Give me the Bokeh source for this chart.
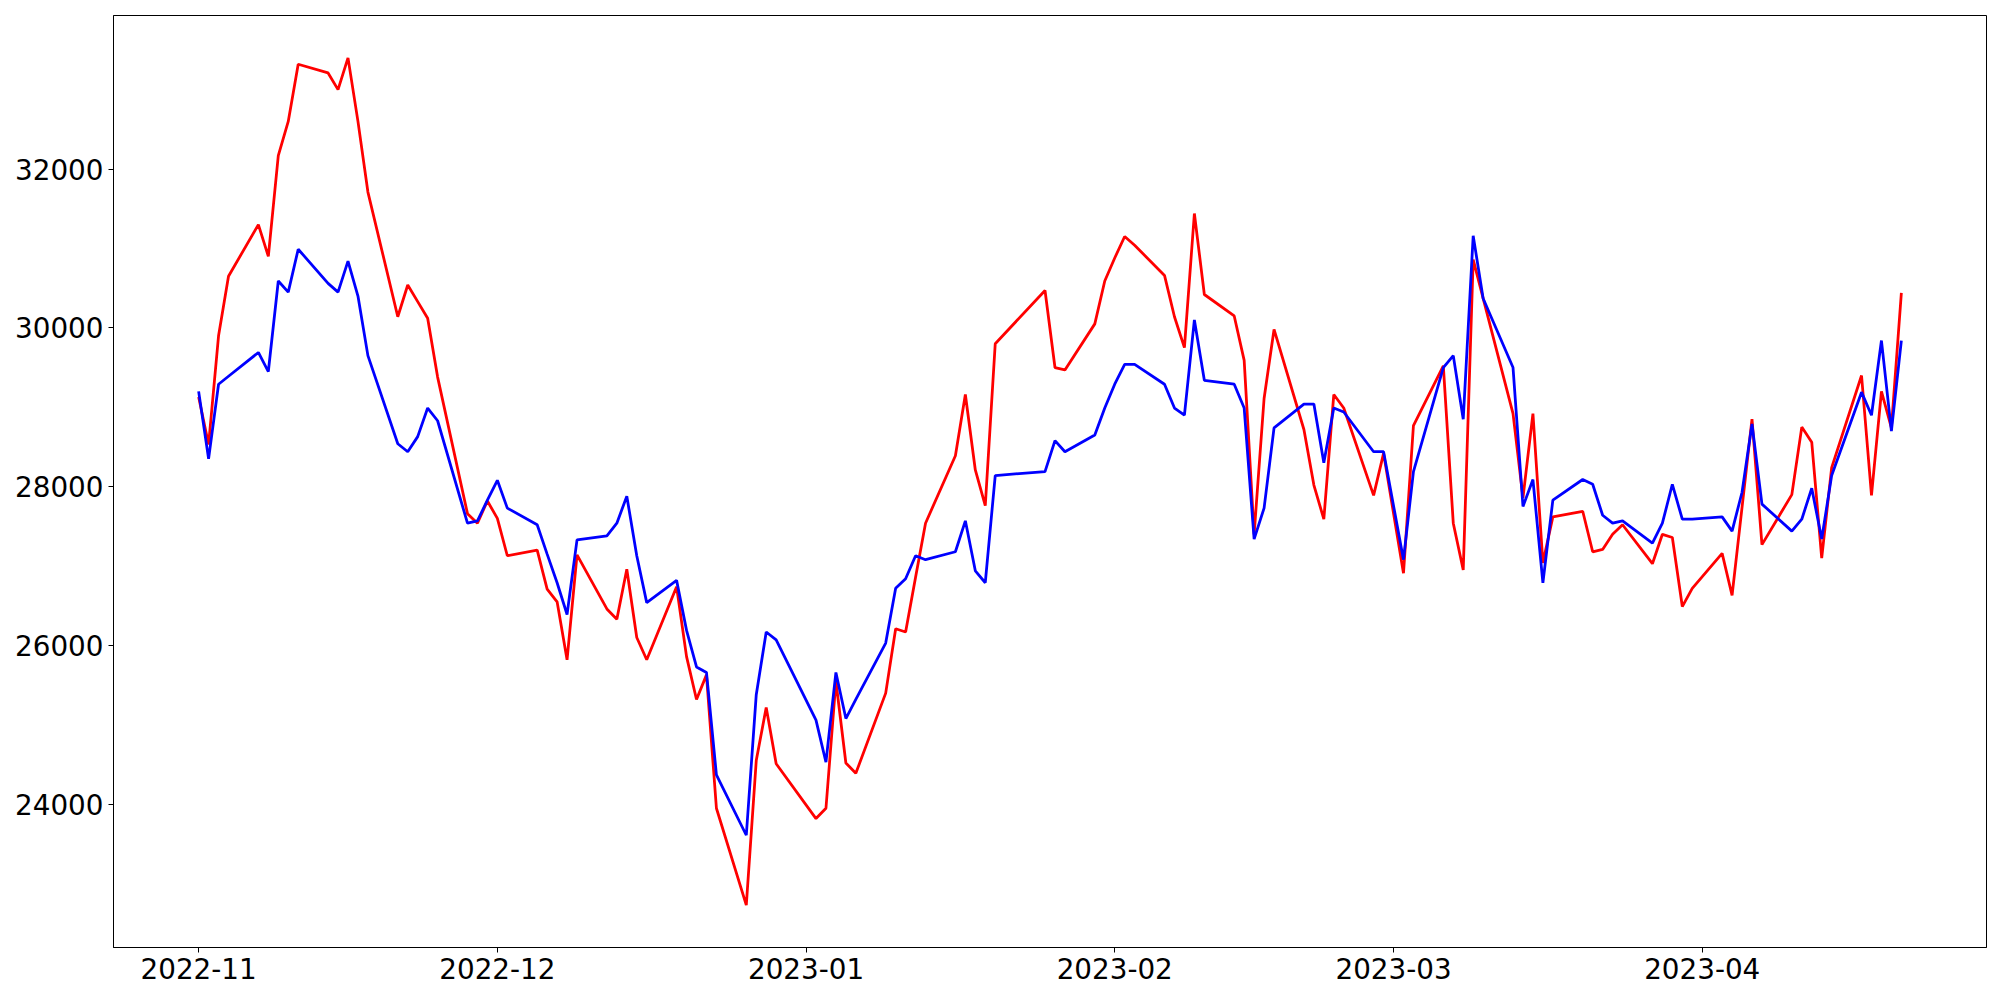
import pandas as pd
from bokeh.plotting import figure
from bokeh.models import Range1d, FixedTicker, DatetimeTickFormatter, ColumnDataSource
from bokeh.embed import file_html
from bokeh.resources import INLINE

trade_dates = [
    "2022-11-01", "2022-11-02", "2022-11-03", "2022-11-04", "2022-11-07", "2022-11-08",
    "2022-11-09", "2022-11-10", "2022-11-11", "2022-11-14", "2022-11-15", "2022-11-16",
    "2022-11-17", "2022-11-18", "2022-11-21", "2022-11-22", "2022-11-23", "2022-11-24",
    "2022-11-25", "2022-11-28", "2022-11-29", "2022-11-30",
    "2022-12-01", "2022-12-02", "2022-12-05", "2022-12-06", "2022-12-07", "2022-12-08",
    "2022-12-09", "2022-12-12", "2022-12-13", "2022-12-14", "2022-12-15", "2022-12-16",
    "2022-12-19", "2022-12-20", "2022-12-21", "2022-12-22", "2022-12-23", "2022-12-26",
    "2022-12-27", "2022-12-28", "2022-12-29",
    "2023-01-02", "2023-01-03", "2023-01-04", "2023-01-05", "2023-01-06", "2023-01-09",
    "2023-01-10", "2023-01-11", "2023-01-12", "2023-01-13", "2023-01-16", "2023-01-17",
    "2023-01-18", "2023-01-19", "2023-01-20", "2023-01-25", "2023-01-26", "2023-01-27",
    "2023-01-30", "2023-01-31",
    "2023-02-01", "2023-02-02", "2023-02-03", "2023-02-06", "2023-02-07", "2023-02-08",
    "2023-02-09", "2023-02-10", "2023-02-13", "2023-02-14", "2023-02-15", "2023-02-16",
    "2023-02-17", "2023-02-20", "2023-02-21", "2023-02-22", "2023-02-23", "2023-02-24",
    "2023-02-27", "2023-02-28",
    "2023-03-02", "2023-03-03", "2023-03-06", "2023-03-07", "2023-03-08", "2023-03-09",
    "2023-03-10", "2023-03-13", "2023-03-14", "2023-03-15", "2023-03-16", "2023-03-17",
    "2023-03-20", "2023-03-21", "2023-03-22", "2023-03-23", "2023-03-24", "2023-03-27",
    "2023-03-28", "2023-03-29", "2023-03-30", "2023-03-31",
    "2023-04-03", "2023-04-04", "2023-04-05", "2023-04-06", "2023-04-07", "2023-04-10",
    "2023-04-11", "2023-04-12", "2023-04-13", "2023-04-14", "2023-04-17", "2023-04-18",
    "2023-04-19", "2023-04-20", "2023-04-21",
]

red_values = [
    29130, 28530, 29900, 30650, 31300, 30900, 32170, 32600, 33320, 33210, 33000, 33400,
    32600, 31710, 30140, 30540, 30330, 30120, 29380, 27660, 27540, 27820,
    27600, 27130, 27200, 26710, 26550, 25820, 27140, 26460, 26330, 26960, 26100, 25820,
    26740, 25860, 25320, 25630, 23950, 22730, 24550, 25220, 24510,
    23820, 23950, 25550, 24520, 24390, 25400, 26210, 26170, 26860, 27540, 28390, 29160,
    28210, 27760, 29800, 30470, 29500, 29470, 30050, 30590,
    30880, 31150, 31040, 30660, 30140, 29750, 31440, 30420, 30150, 29590, 27400, 29110,
    29980, 28720, 28020, 27590, 29160, 28990, 27890, 28420,
    26910, 28770, 29520, 27540, 26950, 30860, 30370, 28920, 27860, 28920, 27040, 27620,
    27690, 27180, 27210, 27400, 27520, 27030, 27400, 27360, 26490, 26720,
    27160, 26630, 27740, 28850, 27270, 27900, 28750, 28560, 27100, 28240, 29400, 27890,
    29200, 28740, 30440,
]

blue_values = [
    29200, 28350, 29290, 29390, 29690, 29450, 30590, 30450, 30990, 30560, 30450, 30840,
    30400, 29650, 28540, 28440, 28630, 28990, 28830, 27540, 27570, 27830,
    28080, 27730, 27520, 27150, 26790, 26390, 27330, 27380, 27540, 27880, 27130, 26540,
    26820, 26190, 25730, 25660, 24370, 23610, 25380, 26170, 26070,
    25060, 24530, 25660, 25080, 25320, 26030, 26720, 26840, 27130, 27080, 27180, 27570,
    26940, 26790, 28140, 28190, 28580, 28440, 28650, 28990,
    29290, 29540, 29540, 29290, 28990, 28900, 30100, 29340, 29290, 28990, 27340, 27730,
    28740, 29040, 29040, 28300, 28990, 28940, 28440, 28440,
    27080, 28190, 29500, 29650, 28850, 31160, 30370, 29500, 27750, 28090, 26790, 27830,
    28090, 28030, 27640, 27540, 27570, 27290, 27540, 28030, 27590, 27590,
    27620, 27440, 27930, 28790, 27780, 27440, 27590, 27980, 27340, 28140, 29190, 28900,
    29840, 28700, 29840,
]

month_ticks = ["2022-11-01", "2022-12-01", "2023-01-01", "2023-02-01", "2023-03-01", "2023-04-01"]
y_ticks = [24000, 26000, 28000, 30000, 32000]


def to_ms(s):
    return pd.Timestamp(s).value / 1e6


x_ms = [to_ms(d) for d in trade_dates]
src = ColumnDataSource(dict(x=x_ms, red=red_values, blue=blue_values))

x_span = max(x_ms) - min(x_ms)
all_vals = red_values + blue_values
y_span = max(all_vals) - min(all_vals)

p = figure(
    frame_width=1873, frame_height=932,
    min_border_left=113, min_border_right=10, min_border_top=15, min_border_bottom=45,
    output_backend="svg", toolbar_location=None,
    x_range=Range1d(min(x_ms) - 0.05 * x_span, max(x_ms) + 0.05 * x_span),
    y_range=Range1d(min(all_vals) - 0.05 * y_span, max(all_vals) + 0.05 * y_span),
    background_fill_color="white", border_fill_color="white",
)

p.line("x", "red", source=src, line_color="#ff0000", line_width=2.78)
p.line("x", "blue", source=src, line_color="#0000ff", line_width=2.78)

p.xgrid.visible = False
p.ygrid.visible = False
p.outline_line_color = "black"
p.outline_line_width = 1
p.outline_line_alpha = 1

fmt = "%Y-%m"
p.xaxis.ticker = FixedTicker(ticks=[to_ms(m) for m in month_ticks])
p.xaxis.formatter = DatetimeTickFormatter(
    microseconds=fmt, milliseconds=fmt, seconds=fmt, minsec=fmt, minutes=fmt,
    hourmin=fmt, hours=fmt, days=fmt, months=fmt, years=fmt,
)
p.yaxis.ticker = FixedTicker(ticks=y_ticks)

for ax in (p.xaxis[0], p.yaxis[0]):
    ax.axis_line_color = "black"
    ax.major_tick_line_color = "black"
    ax.minor_tick_line_color = None
    ax.major_tick_out = 5
    ax.major_tick_in = 0
    ax.major_label_standoff = 5
    ax.major_label_text_font = "DejaVu Sans"
    ax.major_label_text_font_size = "27.8px"
    ax.major_label_text_color = "black"

open("out.html", "w").write(file_html(p, INLINE))
